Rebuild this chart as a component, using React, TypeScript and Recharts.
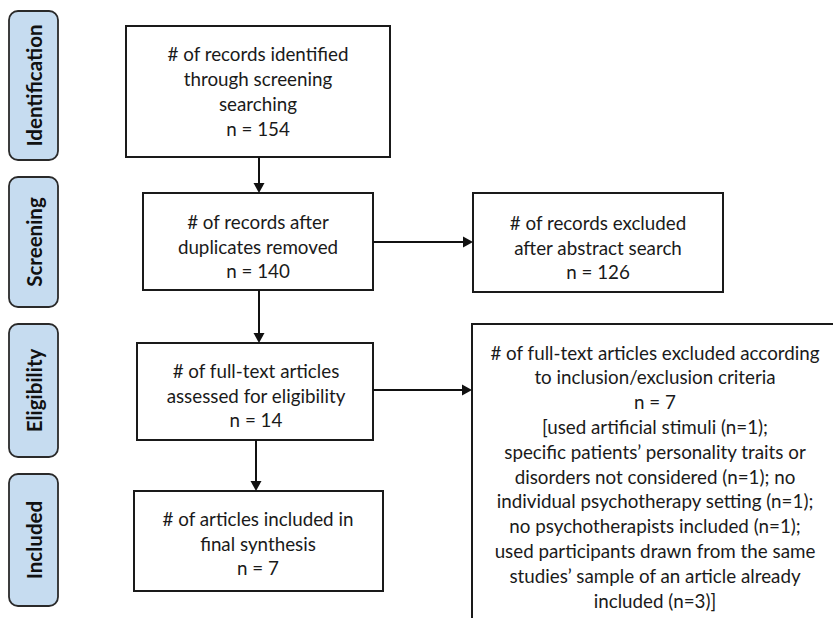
import React from "react";
import { ComposedChart, XAxis, YAxis, Scatter, ReferenceArea, ReferenceLine } from "recharts";

// ---- data ----
const stages = ["Identification", "Screening", "Eligibility", "Included"];
const recordCounts = [154, 140, 126, 14, 7, 7];
const boxTexts: string[][] = [
  ["# of records identified", "through screening", "searching"],
  ["# of records after", "duplicates removed"],
  ["# of records excluded", "after abstract search"],
  ["# of full-text articles", "assessed for eligibility"],
  ["# of articles included in", "final synthesis"],
  ["# of full-text articles excluded according", "to inclusion/exclusion criteria"],
];
const exclusionReasons = [
  "[used artificial stimuli (n=1);",
  "specific patients\u2019 personality traits or",
  "disorders not considered (n=1); no",
  "individual psychotherapy setting (n=1);",
  "no psychotherapists included (n=1);",
  "used participants drawn from the same",
  "studies\u2019 sample of an article already",
  "included (n=3)]",
];

// ---- layout (positions in diagram units) ----
const W = 833;
const H = 618;
const boxLayout = [
  { x1: 126, x2: 390, y1: 26, y2: 157, cx: 258, cy: 91, open: false },
  { x1: 143, x2: 373, y1: 193, y2: 290, cx: 258, cy: 246, open: false },
  { x1: 473, x2: 723, y1: 193, y2: 292, cx: 598, cy: 247, open: false },
  { x1: 137, x2: 373, y1: 343, y2: 440, cx: 256, cy: 395, open: false },
  { x1: 134, x2: 383, y1: 491, y2: 591, cx: 258, cy: 543, open: false },
  { x1: 472, x2: 833, y1: 324, y2: 618, cx: 655, cy: 476, open: true },
];
const pillLayout = [
  { x1: 9, x2: 58, y1: 11, y2: 160 },
  { x1: 9, x2: 58, y1: 177, y2: 307 },
  { x1: 9, x2: 58, y1: 324, y2: 457 },
  { x1: 9, x2: 58, y1: 474, y2: 606 },
];
const arrowLayout = [
  { from: { x: 259, y: 157 }, to: { x: 259, y: 193 } },
  { from: { x: 373, y: 242 }, to: { x: 473, y: 242 } },
  { from: { x: 259, y: 290 }, to: { x: 259, y: 343 } },
  { from: { x: 373, y: 390 }, to: { x: 472, y: 390 } },
  { from: { x: 256, y: 440 }, to: { x: 256, y: 491 } },
];

const FONT = "Lato, 'Open Sans', sans-serif";
const LINE_H = 24.8;
const TEXT_COLOR = "#1a1a1a";

const textPoints = boxLayout.map((b, i) => {
  const lines = [...boxTexts[i], `n = ${recordCounts[i]}`];
  if (i === 5) lines.push(...exclusionReasons);
  return { x: b.cx, y: b.cy, lines };
});

const BoxText = (props: any) => {
  const { cx, cy } = props;
  const p = props.payload ?? props;
  const lines: string[] = p.lines || [];
  const n = lines.length;
  return (
    <g>
      {lines.map((t, i) => (
        <text
          key={i}
          x={cx}
          y={cy + (i - (n - 1) / 2) * LINE_H}
          textAnchor="middle"
          dominantBaseline="central"
          fontFamily={FONT}
          fontSize={18.8}
          fill={TEXT_COLOR}
        >
          {t}
        </text>
      ))}
    </g>
  );
};

const boxShape = (open: boolean) => (p: any) => {
  const { x, y, width, height } = p;
  if (open) {
    return (
      <g>
        <rect x={x} y={y} width={width + 10} height={height + 10} fill="#fff" />
        <path d={`M${x},${y + height + 10} L${x},${y} L${x + width + 10},${y}`} fill="none" stroke="#1a1a1a" strokeWidth={2} />
      </g>
    );
  }
  return <rect x={x} y={y} width={width} height={height} fill="#fff" stroke="#1a1a1a" strokeWidth={2} />;
};

const pillShape = (label: string) => (p: any) => {
  const { x, y, width, height } = p;
  const cx = x + width / 2;
  const cy = y + height / 2;
  return (
    <g>
      <rect x={x} y={y} width={width} height={height} rx={9} ry={9} fill="#c6dcf0" stroke="#2a2a2a" strokeWidth={1.8} />
      <text
        x={cx}
        y={cy}
        transform={`rotate(-90, ${cx}, ${cy})`}
        textAnchor="middle"
        dominantBaseline="central"
        fontFamily={FONT}
        fontWeight={700}
        fontSize={20.5}
        fill="#111"
      >
        {label}
      </text>
    </g>
  );
};

const arrowShape = (p: any) => {
  const { x1, y1, x2, y2 } = p;
  const dx = x2 - x1;
  const dy = y2 - y1;
  const len = Math.sqrt(dx * dx + dy * dy) || 1;
  const ux = dx / len;
  const uy = dy / len;
  const head = 10;
  const half = 5.5;
  const bx = x2 - ux * head;
  const by = y2 - uy * head;
  const px = -uy;
  const py = ux;
  return (
    <g>
      <line x1={x1} y1={y1} x2={bx + ux} y2={by + uy} stroke="#111" strokeWidth={2} />
      <polygon
        points={`${x2},${y2} ${bx + px * half},${by + py * half} ${bx - px * half},${by - py * half}`}
        fill="#111"
      />
    </g>
  );
};

export default function App() {
  return (
    <div style={{ position: "absolute", left: 0, top: 0, width: W, height: H, background: "#fff" }}>
      <ComposedChart width={W} height={H} margin={{ top: 0, right: 0, bottom: 0, left: 0 }} data={textPoints}>
        <XAxis type="number" dataKey="x" domain={[0, W]} hide allowDataOverflow />
        <YAxis type="number" dataKey="y" domain={[0, H]} reversed hide allowDataOverflow />
        {pillLayout.map((p, i) => (
          <ReferenceArea
            key={`pill-${i}`}
            x1={p.x1}
            x2={p.x2}
            y1={p.y1}
            y2={p.y2}
            ifOverflow="visible"
            shape={pillShape(stages[i])}
          />
        ))}
        {boxLayout.map((b, i) => (
          <ReferenceArea
            key={`box-${i}`}
            x1={b.x1}
            x2={b.x2}
            y1={b.y1}
            y2={b.y2}
            ifOverflow="visible"
            shape={boxShape(b.open)}
          />
        ))}
        {arrowLayout.map((a, i) => (
          <ReferenceLine key={`arrow-${i}`} segment={[a.from, a.to]} ifOverflow="visible" shape={arrowShape} />
        ))}
        <Scatter data={textPoints} dataKey="y" isAnimationActive={false} shape={BoxText} />
      </ComposedChart>
    </div>
  );
}
